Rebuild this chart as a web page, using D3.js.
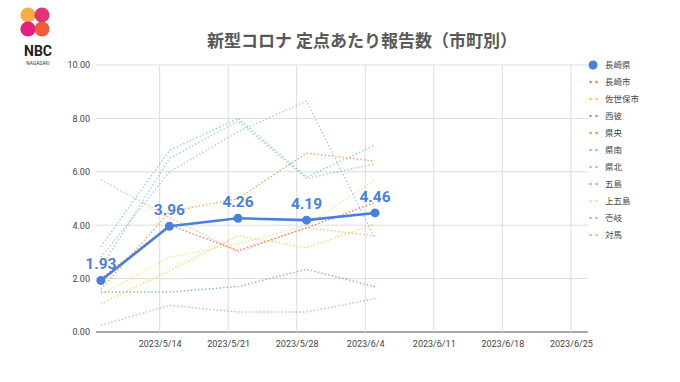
<!DOCTYPE html>
<html><head><meta charset="utf-8">
<script src="https://cdn.jsdelivr.net/npm/d3@7"></script>
<style>
html,body{margin:0;padding:0;background:#fff;}
svg{display:block;}
text{font-family:"Noto Sans CJK JP","Noto Sans",Roboto,sans-serif;}
</style></head>
<body><svg id="c" width="680" height="382"></svg>
<script>
// ---- data ----
const title = "新型コロナ 定点あたり報告数（市町別）";
const dates = ["2023-05-08","2023-05-15","2023-05-22","2023-05-29","2023-06-05"];
const seriesNames = ["長崎県","長崎市","佐世保市","西彼","県央","県南","県北","五島","上五島","壱岐","対馬"];
const seriesColors = ["#4a80dd","#ea4335","#fbbc04","#34a853","#ff6d01","#46bdc6","#7baaf7","#f07b72","#fcd04f","#71c287","#ff994d"];
const nagasakiKen = [1.93, 3.96, 4.26, 4.19, 4.46];
const nagasakiShi = [2.0, 4.0, 3.05, 3.9, 4.85];
const sasebo      = [1.05, 2.3, 3.6, 3.15, 4.05];
const seihi       = [1.5, 1.5, 1.7, 2.35, 1.7];
const kenou       = [1.6, 4.5, 5.0, 6.7, 6.4];
const kennan      = [3.2, 6.8, 8.0, 5.8, 7.0];
const kenhoku     = [2.8, 6.0, 7.5, 8.65, 3.5];
const goto        = [0.25, 1.0, 0.75, 0.75, 1.25];
const kamigoto    = [1.4, 2.8, 3.3, 4.0, 5.7];
const iki         = [2.4, 6.5, 7.9, 5.75, 6.3];
const tsushima    = [5.7, 4.3, 3.0, 3.9, 3.6];
const yTicks = [0, 2, 4, 6, 8, 10];
const xTickDates = ["2023-05-14","2023-05-21","2023-05-28","2023-06-04","2023-06-11","2023-06-18","2023-06-25"];

const allValues = [nagasakiKen, nagasakiShi, sasebo, seihi, kenou, kennan, kenhoku, goto, kamigoto, iki, tsushima];

const parse = s => { const [y,m,d] = s.split("-").map(Number); return new Date(y, m-1, d); };
const svg = d3.select("#c");

const x = d3.scaleTime()
  .domain([new Date(2023,4,7,12), new Date(2023,5,26,18)])
  .range([96, 588]);
const y = d3.scaleLinear().domain([0,10]).range([332, 65]);

// ---- logo ----
const logo = svg.append("g");
[[28,15,"#f9a93a"],[42,15,"#e2286e"],[28,29,"#e3117c"],[42,29,"#f0522c"]].forEach(c=>{
  logo.append("circle").attr("cx",c[0]).attr("cy",c[1]).attr("r",7.6)
    .attr("fill",c[2]).attr("opacity",0.95);
});
logo.append("text").attr("x",38).attr("y",55.5).attr("text-anchor","middle")
  .attr("font-size",14).attr("font-weight","bold").attr("fill","#222")
  .style("font-family","Roboto, sans-serif").text("NBC");
logo.append("text").attr("x",38).attr("y",65).attr("text-anchor","middle")
  .attr("font-size",4.8).attr("fill","#333").style("font-family","Roboto, sans-serif").text("NAGASAKI");

// ---- title ----
svg.append("text").attr("x",362).attr("y",47).attr("text-anchor","middle")
  .attr("font-size",17).attr("font-weight","bold").attr("fill","#595959").text(title);

// ---- grid ----
const g = svg.append("g");
yTicks.forEach(t=>{
  g.append("line").attr("x1",96).attr("x2",588).attr("y1",y(t)).attr("y2",y(t))
    .attr("stroke", t===0 ? "#888" : "#dcdcdc").attr("stroke-width", t===0 ? 1.3 : 1);
});
xTickDates.map(parse).forEach(d=>{
  g.append("line").attr("x1",x(d)).attr("x2",x(d)).attr("y1",y(10)).attr("y2",y(0))
    .attr("stroke","#dcdcdc").attr("stroke-width",1);
});

// axes labels via d3 axes
const yAxis = d3.axisLeft(y).tickValues(yTicks).tickFormat(d3.format(".2f")).tickSize(0).tickPadding(6);
svg.append("g").attr("transform","translate(96,0)").call(yAxis)
  .call(s=>s.select(".domain").remove())
  .selectAll("text").attr("font-size",9).attr("fill","#444").style("font-family","Roboto, sans-serif");

const fmt = d => `${d.getFullYear()}/${d.getMonth()+1}/${d.getDate()}`;
const xAxis = d3.axisBottom(x).tickValues(xTickDates.map(parse)).tickFormat(fmt).tickSize(0).tickPadding(9);
svg.append("g").attr("transform","translate(0,332)").call(xAxis)
  .call(s=>s.select(".domain").remove())
  .selectAll("text").attr("font-size",9).attr("fill","#444").style("font-family","Roboto, sans-serif");

// ---- lines ----
const line = d3.line().x((d,i)=>x(parse(dates[i]))).y(d=>y(d));
for (let k = allValues.length-1; k >= 1; k--) {
  svg.append("path").attr("d", line(allValues[k])).attr("fill","none")
    .attr("stroke", seriesColors[k]).attr("stroke-width",1.4)
    .attr("stroke-dasharray","1.4,2.2").attr("opacity",0.65);
}
svg.append("path").attr("d", line(nagasakiKen)).attr("fill","none")
  .attr("stroke", seriesColors[0]).attr("stroke-width",2.6);
svg.selectAll("circle.pt").data(nagasakiKen).join("circle").attr("class","pt")
  .attr("cx",(d,i)=>x(parse(dates[i]))).attr("cy",d=>y(d)).attr("r",4.5).attr("fill",seriesColors[0]);
svg.selectAll("text.lbl").data(nagasakiKen).join("text").attr("class","lbl")
  .attr("x",(d,i)=>x(parse(dates[i]))).attr("y",d=>y(d)-11).attr("text-anchor","middle")
  .attr("font-size",15.5).attr("font-weight","bold").attr("fill",seriesColors[0])
  .style("font-family","Roboto, sans-serif").text(d=>d.toFixed(2));

// ---- legend ----
const lg = svg.append("g");
seriesNames.forEach((n,i)=>{
  const yy = 65 + i*17;
  if (i===0) {
    lg.append("circle").attr("cx",593).attr("cy",yy).attr("r",4.5).attr("fill",seriesColors[0]);
  } else {
    [590.5,596.5].forEach(cx=>lg.append("circle").attr("cx",cx).attr("cy",yy).attr("r",1.3)
      .attr("fill",seriesColors[i]).attr("opacity",0.75));
  }
  lg.append("text").attr("x",605).attr("y",yy+3.2).attr("font-size",8.5).attr("fill","#444").text(n);
});
</script></body></html>
